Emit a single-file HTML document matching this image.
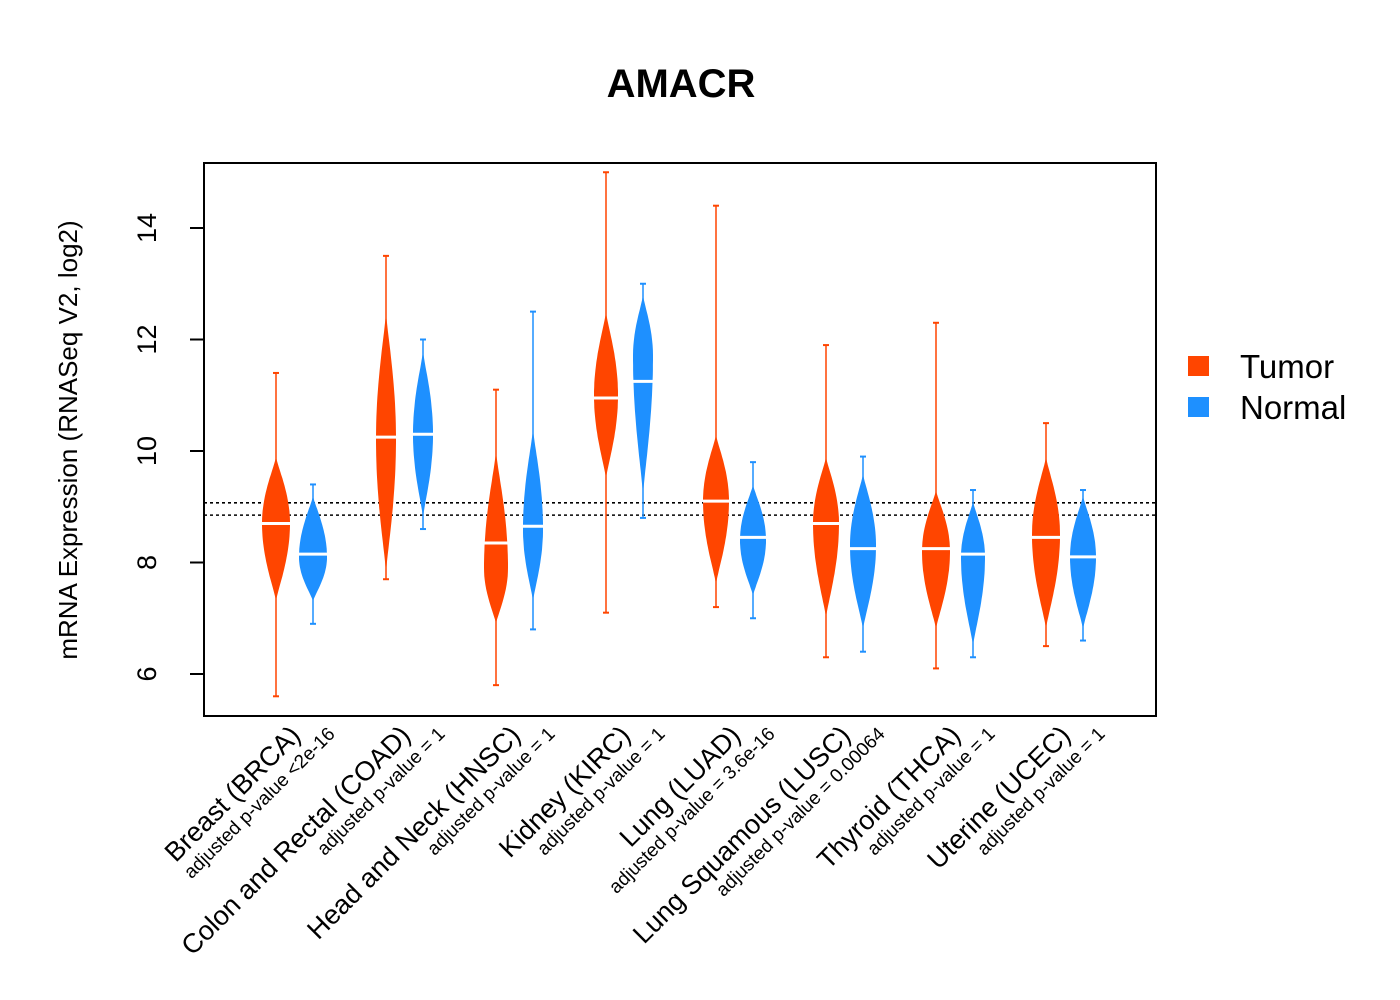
<!DOCTYPE html>
<html><head><meta charset="utf-8"><style>
html,body{margin:0;padding:0;background:#fff;}
svg{display:block;font-family:"Liberation Sans",sans-serif;}
</style></head><body>
<svg id="chart" width="1400" height="1000" viewBox="0 0 1400 1000">
<text x="681" y="97" text-anchor="middle" font-size="40" font-weight="bold">AMACR</text>
<g id="plot"></g>
<rect x="204" y="163" width="952" height="553" fill="none" stroke="#000" stroke-width="2"/>
<text transform="translate(77,440) rotate(-90)" text-anchor="middle" font-size="26">mRNA Expression (RNASeq V2, log2)</text>
<g>
<rect x="1188" y="356" width="21" height="20" fill="#FF4500"/>
<text x="1240" y="378" font-size="33">Tumor</text>
<rect x="1188" y="397" width="21" height="20" fill="#1E90FF"/>
<text x="1240" y="419" font-size="33">Normal</text>
</g>
</svg>
<script>
const categories=["Breast (BRCA)","Colon and Rectal (COAD)","Head and Neck (HNSC)","Kidney (KIRC)","Lung (LUAD)","Lung Squamous (LUSC)","Thyroid (THCA)","Uterine (UCEC)"];
const pvalues=["adjusted p-value <2e-16","adjusted p-value = 1","adjusted p-value = 1","adjusted p-value = 1","adjusted p-value = 3.6e-16","adjusted p-value = 0.00064","adjusted p-value = 1","adjusted p-value = 1"];
const tumorMin=[5.6,7.7,5.8,7.1,7.2,6.3,6.1,6.5];
const tumorMax=[11.4,13.5,11.1,15.0,14.4,11.9,12.3,10.5];
const tumorBodyLo=[7.3,7.8,6.9,9.5,7.6,7.0,6.8,6.8];
const tumorBodyHi=[9.9,12.5,10.0,12.5,10.3,9.9,9.3,9.9];
const tumorMode=[8.7,10.2,7.9,11.0,9.1,8.7,8.2,8.5];
const tumorMedian=[8.7,10.25,8.35,10.95,9.1,8.7,8.25,8.45];
const tumorDensity=[14,10,12,12,13,13,14,14];
const normalMin=[6.9,8.6,6.8,8.8,7.0,6.4,6.3,6.6];
const normalMax=[9.4,12.0,12.5,13.0,9.8,9.9,9.3,9.3];
const normalBodyLo=[7.3,8.8,7.3,9.2,7.4,6.8,6.5,6.8];
const normalBodyHi=[9.2,11.8,10.4,12.8,9.4,9.6,9.1,9.2];
const normalMode=[8.1,10.3,8.6,11.7,8.4,8.3,8.1,8.1];
const normalMedian=[8.15,10.3,8.65,11.25,8.45,8.25,8.15,8.1];
const normalDensity=[14,10,10,10,13,13,12,13];
const yTicks=[6,8,10,12,14];
const refLines=[9.07,8.85];

const NS="http://www.w3.org/2000/svg";
const svg=document.getElementById('chart');
const plot=document.getElementById('plot');
const yScale=v=>674-(v-6)*55.75;
const xTumor=i=>276+i*110;
const xNormal=i=>313+i*110;
function mk(tag,attrs,parent){const e=document.createElementNS(NS,tag);for(const k in attrs)e.setAttribute(k,attrs[k]);(parent||plot).appendChild(e);return e;}

yTicks.forEach(t=>{
  const l=mk('line',{x1:190,x2:204,y1:yScale(t),y2:yScale(t),stroke:'#000','stroke-width':2},svg);
  
  
  const tx=mk('text',{transform:`translate(156,${yScale(t)}) rotate(-90)`,'text-anchor':'middle','font-size':27},svg);
  tx.textContent=t;
  
  
});
refLines.forEach((r,k)=>{
  const l=mk('line',{x1:204,x2:1156,y1:yScale(r),y2:yScale(r),stroke:'#000','stroke-width':1.6,'stroke-dasharray':'3,3'});
  
  
});
function violin(cx,mn,mx,lo,hi,mode,med,hw,color,name){
  const g=mk('g',{});
  
  
  mk('line',{x1:cx,x2:cx,y1:yScale(mn),y2:yScale(mx),stroke:color,'stroke-width':1.5},g);
  const N=40,L=[],R=[];
  for(let k=0;k<=N;k++){
    const v=lo+(hi-lo)*k/N;
    const t=v<mode?(mode-v)/(mode-lo):(v-mode)/(hi-mode);
    const w=hw*Math.pow(Math.max(0,1-t*t),1.3);
    L.push([cx-w,yScale(v)]);R.push([cx+w,yScale(v)]);
  }
  const pts=L.concat(R.reverse()).map(p=>p[0].toFixed(1)+','+p[1].toFixed(1)).join(' ');
  mk('polygon',{points:pts,fill:color},g);
  mk('line',{x1:cx-3,x2:cx+3,y1:yScale(mn),y2:yScale(mn),stroke:color,'stroke-width':2},g);
  mk('line',{x1:cx-3,x2:cx+3,y1:yScale(mx),y2:yScale(mx),stroke:color,'stroke-width':2},g);
  mk('line',{x1:cx-hw,x2:cx+hw,y1:yScale(med),y2:yScale(med),stroke:'#fff','stroke-width':3},g);
}
categories.forEach((c,i)=>{
  violin(xTumor(i),tumorMin[i],tumorMax[i],tumorBodyLo[i],tumorBodyHi[i],tumorMode[i],tumorMedian[i],tumorDensity[i],'#FF4500','tumor-violin-'+i);
  violin(xNormal(i),normalMin[i],normalMax[i],normalBodyLo[i],normalBodyHi[i],normalMode[i],normalMedian[i],normalDensity[i],'#1E90FF','normal-violin-'+i);
  const t=mk('text',{transform:`translate(${xTumor(i)+26},${737}) rotate(-45)`,'text-anchor':'end','font-size':27},svg);
  t.textContent=c;
  
  
  const p=mk('text',{transform:`translate(${xNormal(i)+23},${735}) rotate(-45)`,'text-anchor':'end','font-size':19},svg);
  p.textContent=pvalues[i];
  
  
});
</script>
</body></html>
